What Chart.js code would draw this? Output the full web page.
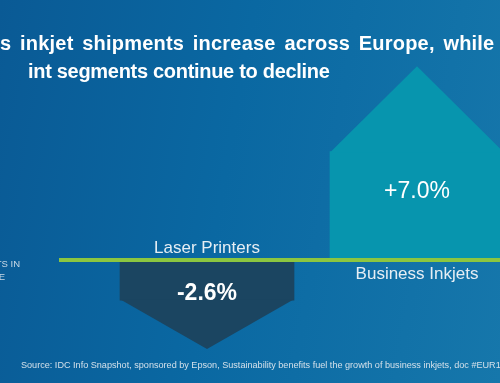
<!DOCTYPE html>
<html>
<head>
<meta charset="utf-8">
<script src="https://cdn.jsdelivr.net/npm/chart.js@4"></script>
<style>
  html, body { margin: 0; padding: 0; }
  #wrap {
    position: relative; width: 500px; height: 383px; overflow: hidden;
    background: linear-gradient(100deg, #0a5a95 0%, #0a68a2 45%, #1677ab 100%);
    font-family: "Liberation Sans", Arial, sans-serif;
  }
  #chart { position: absolute; left: 0; top: 0; }
  .title { position: absolute; color: #fff; font-weight: bold; font-size: 20px; white-space: nowrap; }
  .side { position: absolute; color: #c9d9e6; font-size: 9.5px; white-space: nowrap; text-align: right; }
  #source { position: absolute; left: 21px; top: 360px; color: #d3e0ea; font-size: 9.1px; white-space: nowrap; }
</style>
</head>
<body>
<div id="wrap">
  <canvas id="chart" width="500" height="383"></canvas>
  <div class="title" style="left:0px; top:32px; word-spacing:3px; letter-spacing:0.2px;">s inkjet shipments increase across Europe, while</div>
  <div class="title" style="left:28px; top:60px; letter-spacing:-0.3px;">int segments continue to decline</div>
  <div class="side" style="right:480px; top:258px;">TS IN</div>
  <div class="side" style="right:495px; top:271px;">E</div>
  <div id="source">Source: IDC Info Snapshot, sponsored by Epson, Sustainability benefits fuel the growth of business inkjets, doc #EUR1</div>
</div>
<script>
// data
const categories = ["Laser Printers", "Business Inkjets"];
const growth = [-2.6, 7.0];
const value_labels = ["-2.6%", "+7.0%"];

const bar_colors = ["#1b4561", "#0795ae"];
const green = "#8cc640";

// arrow heads + zero line + labels, positioned from the bar elements
const arrowPlugin = {
  id: "arrows",
  afterDatasetsDraw(chart) {
    const ctx = chart.ctx;
    const meta = chart.getDatasetMeta(0);
    const zero = chart.scales.y.getPixelForValue(0);
    ctx.save();
    meta.data.forEach((bar, i) => {
      const half = bar.width / 2;
      const up = growth[i] >= 0;
      const head = up ? half * 0.98 : half * 0.56;
      const dir = up ? -1 : 1;
      ctx.fillStyle = bar_colors[i];
      ctx.beginPath();
      ctx.moveTo(bar.x - half, bar.y - dir);
      ctx.lineTo(bar.x + half, bar.y - dir);
      ctx.lineTo(bar.x, bar.y + dir * head);
      ctx.closePath();
      ctx.fill();

      // value inside the arrow
      ctx.fillStyle = "#ffffff";
      ctx.textAlign = "center";
      ctx.textBaseline = "middle";
      let vy;
      if (up) {
        ctx.font = "23px 'Liberation Sans'";
        vy = bar.y + (bar.base - bar.y) * 0.37;
      } else {
        ctx.font = "bold 23px 'Liberation Sans'";
        vy = bar.base + (bar.y + head - bar.base) * 0.38;
      }
      ctx.fillText(value_labels[i], bar.x, vy);

      // category name on the other side of the line
      ctx.fillStyle = "#e6eef4";
      ctx.font = "17px 'Liberation Sans'";
      ctx.fillText(categories[i], bar.x, up ? zero + 14 : zero - 12);
    });

    ctx.strokeStyle = green;
    ctx.lineWidth = 4;
    ctx.beginPath();
    ctx.moveTo(59, zero);
    ctx.lineTo(chart.width, zero);
    ctx.stroke();
    ctx.restore();
  }
};

new Chart(document.getElementById("chart"), {
  type: "bar",
  data: {
    labels: categories,
    datasets: [{
      data: growth,
      backgroundColor: bar_colors,
      borderWidth: 0,
      barThickness: 174,
      clip: false
    }]
  },
  options: {
    responsive: false,
    animation: false,
    devicePixelRatio: 1,
    layout: { padding: { left: 207, right: 83, top: 0, bottom: 0 } },
    plugins: { legend: { display: false }, tooltip: { enabled: false } },
    scales: {
      x: { display: false, offset: false },
      y: { display: false, min: -7.935, max: 16.77 }
    }
  },
  plugins: [arrowPlugin]
});
</script>
</body>
</html>
